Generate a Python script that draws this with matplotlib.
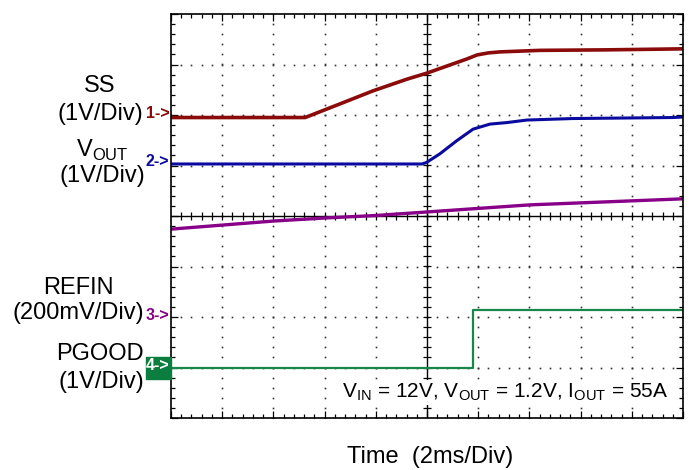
import numpy as np
import matplotlib

matplotlib.use('Agg')
import matplotlib.pyplot as plt

plt.rcParams['font.family'] = ['Liberation Sans', 'DejaVu Sans']
plt.rcParams['mathtext.fontset'] = 'custom'
plt.rcParams['mathtext.rm'] = 'Liberation Sans'

# traces, x in divisions (2 ms/div), y in divisions from centre
ss_t = [0.0, 2.62, 3.30, 3.95, 4.61, 5.00, 5.39, 5.78, 5.98, 6.20, 6.43, 7.21, 8.50, 10.0]
ss_v = [1.95, 1.95, 2.22, 2.48, 2.71, 2.83, 2.97, 3.11, 3.19, 3.23, 3.25, 3.28, 3.29, 3.31]

vout_t = [0.0, 4.90, 4.99, 5.25, 5.58, 5.90, 6.23, 6.56, 6.95, 7.85, 9.80, 10.0]
vout_v = [1.03, 1.03, 1.06, 1.23, 1.49, 1.72, 1.82, 1.85, 1.90, 1.93, 1.95, 1.96]

refin_t = [0, 1, 2, 3, 4, 5, 6, 7, 8, 9, 10]
refin_v = [-0.26, -0.18, -0.10, -0.04, 0.01, 0.08, 0.15, 0.22, 0.26, 0.30, 0.34]

pg_t = [0.0, 5.90, 10.0]
pg_v = [-3.00, -1.86, -1.86]

c_ss, c_vout, c_refin, c_pg = '#8b0a0a', '#0a0aa0', '#880088', '#17884a'

W, H = 693, 470


def fx(x):
    return x / W


def fy(y):
    return 1 - y / H


fig = plt.figure(figsize=(W / 100, H / 100), dpi=100)
ax = fig.add_axes([fx(171), fy(418), 512 / W, 404 / H])
ax.set_xlim(0, 10)
ax.set_ylim(-4, 4)

# dotted graticule
for i in range(1, 10):
    if i == 5:
        continue
    ys = np.arange(-4, 4.01, 0.2)
    ax.plot(np.full(len(ys), i), ys, ls='none', marker='s', ms=1.2, color='#333333', mew=0)
for j in range(-3, 4):
    if j == 0:
        continue
    xs = np.arange(0, 10.01, 0.2)
    ax.plot(xs, np.full(len(xs), j), ls='none', marker='s', ms=1.2, color='#333333', mew=0)

# centre axes with crossing ticks
ax.axhline(0, color='k', lw=1)
ax.axvline(5, color='k', lw=1)
xs = np.arange(0.2, 10, 0.2)
ax.plot(xs, np.zeros(len(xs)), ls='none', marker='|', ms=6, color='k', mew=0.9)
ys = np.arange(-3.8, 4, 0.2)
ax.plot(np.full(len(ys), 5), ys, ls='none', marker='_', ms=6, color='k', mew=0.9)

ax.set_xticks(np.arange(0, 11, 1))
ax.set_yticks(np.arange(-4, 5, 1))
ax.set_xticks(np.arange(0, 10.01, 0.2), minor=True)
ax.set_yticks(np.arange(-4, 4.01, 0.2), minor=True)
ax.tick_params(which='both', direction='in', top=True, right=True,
               labelbottom=False, labelleft=False, width=0.9, color='k')
ax.tick_params(which='major', length=5)
ax.tick_params(which='minor', length=3)
for s in ax.spines.values():
    s.set_linewidth(1.2)

# traces
ax.plot(ss_t, ss_v, color=c_ss, lw=2.6, solid_capstyle='butt')
ax.plot(vout_t, vout_v, color=c_vout, lw=2.2, solid_capstyle='butt')
ax.plot(refin_t, refin_v, color=c_refin, lw=2.4, solid_capstyle='butt')
ax.step(pg_t, pg_v, where='post', color=c_pg, lw=1.6)

# channel labels
big = 17
fig.text(fx(100), fy(86), 'SS', fontsize=big, ha='center', va='center')
fig.text(fx(100), fy(114), '(1V/Div)', fontsize=big, ha='center', va='center')
fig.text(fx(102), fy(150), r'V$_{\mathrm{OUT}}$', fontsize=big, ha='center', va='center')
fig.text(fx(102), fy(176), '(1V/Div)', fontsize=big, ha='center', va='center')
fig.text(fx(78), fy(288), 'REFIN', fontsize=big, ha='center', va='center')
fig.text(fx(78), fy(313), '(200mV/Div)', fontsize=big, ha='center', va='center')
fig.text(fx(100), fy(354), 'PGOOD', fontsize=big, ha='center', va='center')
fig.text(fx(101), fy(382), '(1V/Div)', fontsize=big, ha='center', va='center')

# channel markers
mk = 11.5
fig.text(fx(146), fy(114), '1->', fontsize=mk, color=c_ss, va='center', weight='bold')
fig.text(fx(146), fy(162), '2->', fontsize=mk, color=c_vout, va='center', weight='bold')
fig.text(fx(146), fy(315), '3->', fontsize=mk, color=c_refin, va='center', weight='bold')
fig.patches.append(plt.Rectangle((fx(146), fy(379)), 25 / W, 22 / H,
                                 transform=fig.transFigure, color='#0b7d3e', zorder=5))
fig.text(fx(146), fy(366), '4->', fontsize=mk, color='white', va='center', zorder=6,
         weight='bold')

ax.text(0.971, 0.05,
        r'V$_{\mathrm{IN}}$ = 12V, V$_{\mathrm{OUT}}$ = 1.2V, I$_{\mathrm{OUT}}$ = 55A',
        transform=ax.transAxes, fontsize=15, ha='right', va='baseline', zorder=10,
        bbox=dict(facecolor='white', edgecolor='none', pad=1.5))
fig.text(fx(430), fy(463), 'Time  (2ms/Div)', fontsize=big, ha='center', va='baseline')

fig.savefig('out.png', dpi=100)
